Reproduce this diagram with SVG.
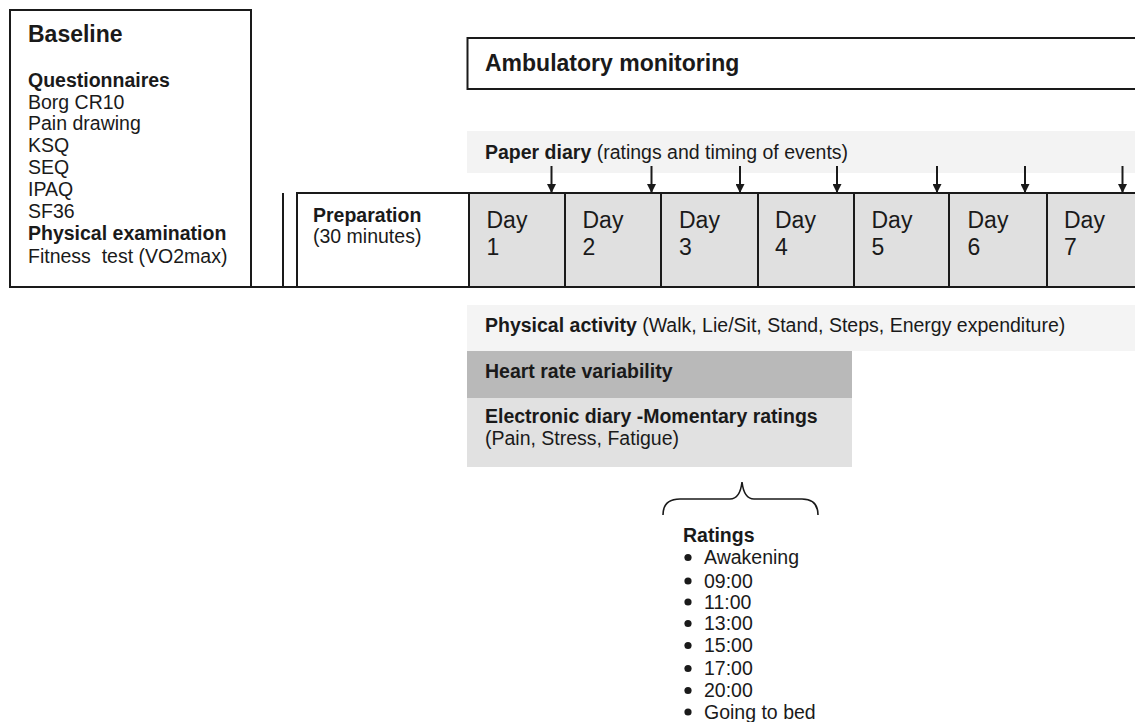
<svg xmlns="http://www.w3.org/2000/svg" width="1135" height="722" viewBox="0 0 1135 722">
<style>
text{font-family:"Liberation Sans",Arial,Helvetica,sans-serif;fill:#1a1a1a;font-size:19.5px}
.b{font-weight:bold}
.t{font-weight:bold;font-size:23px}
.day{font-size:23px}
.pre{white-space:pre}
.box{fill:#fff;stroke:#1a1a1a;stroke-width:2}
.dbox{fill:#e0e0e0;stroke:#1a1a1a;stroke-width:2}
.ln{fill:none;stroke:#1a1a1a;stroke-width:2}
.arr{stroke:#1a1a1a;stroke-width:2;marker-end:url(#ah)}
</style>
<defs>
<marker id="ah" viewBox="0 0 10 10" refX="10" refY="5" markerWidth="9" markerHeight="9" markerUnits="userSpaceOnUse" orient="auto">
<path d="M0,0 L10,5 L0,10 z" fill="#1a1a1a"/>
</marker>
</defs>
<rect width="1135" height="722" fill="#fff"/>

<g id="baseline">
<rect class="box" x="10" y="10" width="241" height="277"/>
<text class="t" x="28" y="42">Baseline</text>
<text class="b" x="28" y="87">Questionnaires</text>
<text x="28" y="108.5">Borg CR10</text>
<text x="28" y="130">Pain drawing</text>
<text x="28" y="152">KSQ</text>
<text x="28" y="174">SEQ</text>
<text x="28" y="196">IPAQ</text>
<text x="28" y="218">SF36</text>
<text class="b" x="28" y="240">Physical examination</text>
<text class="pre" x="28" y="263" xml:space="preserve">Fitness  test (VO2max)</text>
</g>

<g id="ambulatory">
<path class="ln" d="M1135,38 H467.5 V89 H1135"/>
<text class="t" x="485" y="71">Ambulatory monitoring</text>
</g>

<g id="paper-diary">
<rect x="467" y="131" width="668" height="42" fill="#f3f3f3"/>
<text x="485" y="159"><tspan class="b">Paper diary</tspan> (ratings and timing of events)</text>
</g>

<g id="timeline">
<line class="ln" x1="10" y1="287" x2="1135" y2="287"/>
<line class="ln" x1="283" y1="193" x2="283" y2="287"/>
</g>

<g id="preparation">
<path class="box" d="M469,193 H297 V287 H469"/>
<text class="b" x="313" y="222">Preparation</text>
<text x="313" y="243">(30 minutes)</text>
</g>

<g id="day1"><rect class="dbox" x="469" y="193" width="96" height="94"/><text class="day" x="486.5" y="227.5">Day</text><text class="day" x="486.5" y="254.5">1</text></g>
<g id="day2"><rect class="dbox" x="565" y="193" width="96" height="94"/><text class="day" x="582.5" y="227.5">Day</text><text class="day" x="582.5" y="254.5">2</text></g>
<g id="day3"><rect class="dbox" x="661" y="193" width="97" height="94"/><text class="day" x="679" y="227.5">Day</text><text class="day" x="679" y="254.5">3</text></g>
<g id="day4"><rect class="dbox" x="758" y="193" width="96" height="94"/><text class="day" x="775" y="227.5">Day</text><text class="day" x="775" y="254.5">4</text></g>
<g id="day5"><rect class="dbox" x="854" y="193" width="95" height="94"/><text class="day" x="871.5" y="227.5">Day</text><text class="day" x="871.5" y="254.5">5</text></g>
<g id="day6"><rect class="dbox" x="949" y="193" width="98" height="94"/><text class="day" x="967.5" y="227.5">Day</text><text class="day" x="967.5" y="254.5">6</text></g>
<g id="day7"><path d="M1135,193 H1047 V287 H1135" fill="#e0e0e0" stroke="#1a1a1a" stroke-width="2"/><text class="day" x="1064" y="227.5">Day</text><text class="day" x="1064" y="254.5">7</text></g>

<g id="physical-activity">
<rect x="467" y="305" width="668" height="46" fill="#f4f4f4"/>
<text x="485" y="332"><tspan class="b">Physical activity</tspan> (Walk, Lie/Sit, Stand, Steps, Energy expenditure)</text>
</g>

<g id="hrv">
<rect x="467" y="351" width="385" height="47" fill="#b9b9b9"/>
<text class="b" x="485" y="378">Heart rate variability</text>
</g>

<g id="ediary">
<rect x="467" y="398" width="385" height="69" fill="#e1e1e1"/>
<text class="b" x="485" y="422.5">Electronic diary -Momentary ratings</text>
<text x="485" y="444.5">(Pain, Stress, Fatigue)</text>
</g>

<g id="ratings">
<text class="b" x="683" y="542">Ratings</text>
<g fill="#1a1a1a">
<circle cx="688" cy="557.5" r="3.6"/>
<circle cx="688" cy="581" r="3.6"/>
<circle cx="688" cy="602" r="3.6"/>
<circle cx="688" cy="623.5" r="3.6"/>
<circle cx="688" cy="645.5" r="3.6"/>
<circle cx="688" cy="668.5" r="3.6"/>
<circle cx="688" cy="690.5" r="3.6"/>
<circle cx="688" cy="712" r="3.6"/>
</g>
<text x="704" y="564">Awakening</text>
<text x="704" y="587.5">09:00</text>
<text x="704" y="608.5">11:00</text>
<text x="704" y="630">13:00</text>
<text x="704" y="652">15:00</text>
<text x="704" y="675">17:00</text>
<text x="704" y="697">20:00</text>
<text x="704" y="718.5">Going to bed</text>
</g>

<g id="connectors">
<line class="arr" x1="551.5" y1="166" x2="551.5" y2="193"/>
<line class="arr" x1="651.5" y1="166" x2="651.5" y2="193"/>
<line class="arr" x1="740" y1="166" x2="740" y2="193"/>
<line class="arr" x1="837" y1="166" x2="837" y2="193"/>
<line class="arr" x1="937" y1="166" x2="937" y2="193"/>
<line class="arr" x1="1025" y1="166" x2="1025" y2="193"/>
<line class="arr" x1="1122.5" y1="166" x2="1122.5" y2="193"/>
<path d="M663,515 Q663,499 680,499 L730,499 Q740,499 742,482 Q744,499 754,499 L802,499 Q818,499 818,515" fill="none" stroke="#1a1a1a" stroke-width="1.6"/>
</g>
</svg>
